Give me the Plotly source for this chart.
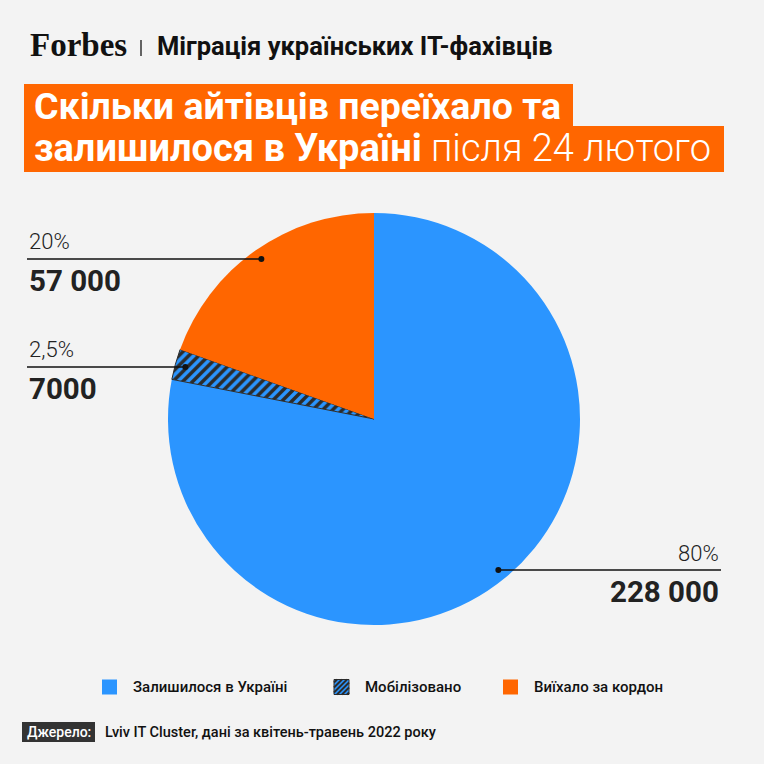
import math
import plotly.graph_objects as go

W = H = 764

# дані
categories = ['Залишилося в Україні', 'Мобілізовано', 'Виїхало за кордон']
values = [228000, 7000, 57000]
shares = ['80%', '2,5%', '20%']
counts = ['228 000', '7000', '57 000']

header = 'Міграція українських IT-фахівців'
title_1 = 'Скільки айтівців переїхало та'
title_2_bold = 'залишилося в Україні'
title_2_light = 'після 24 лютого'
source_label = 'Джерело:'
source_text = 'Lviv IT Cluster, дані за квітень-травень 2022 року'

BLUE = '#2b95ff'
ORANGE = '#ff6600'
DARK = '#2b2b2b'
BG = '#f3f3f3'
FONT = 'Roboto'


def px(x):
    return x / W


def py(y):
    return 1 - y / H


# геометрія пирога (пікселі)
cx, cy, R = 374, 419, 206

fig = go.Figure(go.Pie(
    labels=categories, values=values, sort=False,
    direction='clockwise', rotation=0,
    marker=dict(colors=[BLUE, BLUE, ORANGE],
                pattern=dict(shape=['', '/', ''], fgcolor=DARK, bgcolor=BLUE,
                             fillmode='replace', size=7, solidity=0.5),
                line=dict(color=DARK, width=[0, 1, 0])),
    textinfo='none', hoverinfo='label+value', showlegend=False,
    domain=dict(x=[px(cx - R), px(cx + R)], y=[py(cy + R), py(cy - R)]),
))

shapes = []
annotations = []

# підписи з лініями
total = sum(values)
cum = 0
for i, v in enumerate(values):
    mid = (cum + v / 2) / total * 2 * math.pi
    cum += v
    dx = cx + 0.95 * R * math.sin(mid)
    dy = cy - 0.95 * R * math.cos(mid)
    if dx > cx:
        x0, x1, tx, anchor = dx, 721, 721, 'right'
    else:
        x0, x1, tx, anchor = 27, dx, 27, 'left'
    shapes.append(dict(type='line', xref='paper', yref='paper',
                       x0=px(x0), x1=px(x1), y0=py(dy), y1=py(dy),
                       line=dict(color='#111111', width=1.5)))
    shapes.append(dict(type='circle', xref='paper', yref='paper',
                       x0=px(dx - 3), x1=px(dx + 3), y0=py(dy - 3), y1=py(dy + 3),
                       fillcolor='#111111', line=dict(width=0)))
    annotations.append(dict(text=shares[i], x=px(tx), y=py(dy - 17), xanchor=anchor,
                            yanchor='middle', showarrow=False,
                            font=dict(family=FONT, size=22, color='#222222', weight=300)))
    annotations.append(dict(text='<b>' + counts[i] + '</b>', x=px(tx), y=py(dy + 22),
                            xanchor=anchor, yanchor='middle', showarrow=False,
                            font=dict(family=FONT, size=29.5, color='#222222')))

# легенда
leg_x = [102, 334, 503]
leg_y = 687
for i, name in enumerate(categories):
    x0 = leg_x[i]
    if i == 1:
        shapes.append(dict(type='rect', xref='paper', yref='paper',
                           x0=px(x0), x1=px(x0 + 15), y0=py(leg_y + 7.5), y1=py(leg_y - 7.5),
                           fillcolor=BLUE, line=dict(color=DARK, width=1)))
        # штрихування "/"
        for c in range(-12, 16, 5):
            a = max(0, c)
            b = min(15, c + 15)
            shapes.append(dict(type='line', xref='paper', yref='paper',
                               x0=px(x0 + a), x1=px(x0 + b),
                               y0=py(leg_y + 7.5 - (a - c)), y1=py(leg_y + 7.5 - (b - c)),
                               line=dict(color=DARK, width=2)))
    else:
        shapes.append(dict(type='rect', xref='paper', yref='paper',
                           x0=px(x0), x1=px(x0 + 15), y0=py(leg_y + 7.5), y1=py(leg_y - 7.5),
                           fillcolor=BLUE if i == 0 else ORANGE, line=dict(width=0)))
    annotations.append(dict(text=name, x=px(x0 + 29), y=py(leg_y), xanchor='left',
                            yanchor='middle', showarrow=False,
                            font=dict(family=FONT, size=15, color='#111111', weight=500)))

# шапка
annotations.append(dict(text='<b>Forbes</b>', x=px(28), y=py(45), xanchor='left',
                        yanchor='middle', showarrow=False,
                        font=dict(family='Liberation Serif', size=33, color='#111111')))
shapes.append(dict(type='line', xref='paper', yref='paper', x0=px(141), x1=px(141),
                   y0=py(40), y1=py(56), line=dict(color='#333333', width=1.5)))
annotations.append(dict(text='<b>' + header + '</b>', x=px(155), y=py(46), xanchor='left',
                        yanchor='middle', showarrow=False,
                        font=dict(family=FONT, size=25.5, color='#111111')))

# заголовок на помаранчевих плашках
shapes.append(dict(type='rect', xref='paper', yref='paper', x0=px(24), x1=px(573),
                   y0=py(127), y1=py(84), fillcolor=ORANGE, line=dict(width=0), layer='below'))
shapes.append(dict(type='rect', xref='paper', yref='paper', x0=px(24), x1=px(724),
                   y0=py(172), y1=py(126), fillcolor=ORANGE, line=dict(width=0), layer='below'))
annotations.append(dict(text='<b>' + title_1 + '</b>', x=px(32), y=py(106), xanchor='left',
                        yanchor='middle', showarrow=False,
                        font=dict(family=FONT, size=37.5, color='white')))
annotations.append(dict(text='<b>' + title_2_bold + '</b> ' + title_2_light, x=px(32), y=py(148),
                        xanchor='left', yanchor='middle', showarrow=False,
                        font=dict(family=FONT, size=38, color='white', weight=300)))

# джерело
shapes.append(dict(type='rect', xref='paper', yref='paper', x0=px(22), x1=px(95),
                   y0=py(742), y1=py(722), fillcolor='#333333', line=dict(width=0)))
annotations.append(dict(text=source_label, x=px(58.5), y=py(732), xanchor='center',
                        yanchor='middle', showarrow=False,
                        font=dict(family=FONT, size=14, color='white', weight=500)))
annotations.append(dict(text=source_text, x=px(103), y=py(732), xanchor='left',
                        yanchor='middle', showarrow=False,
                        font=dict(family=FONT, size=14.5, color='#111111', weight=500)))

fig.update_layout(
    width=W, height=H,
    margin=dict(l=0, r=0, t=0, b=0),
    paper_bgcolor=BG, plot_bgcolor=BG,
    shapes=shapes, annotations=annotations,
)

fig.write_html("out.html", config={'displayModeBar': False},
               post_script="document.body.style.margin='0';")
